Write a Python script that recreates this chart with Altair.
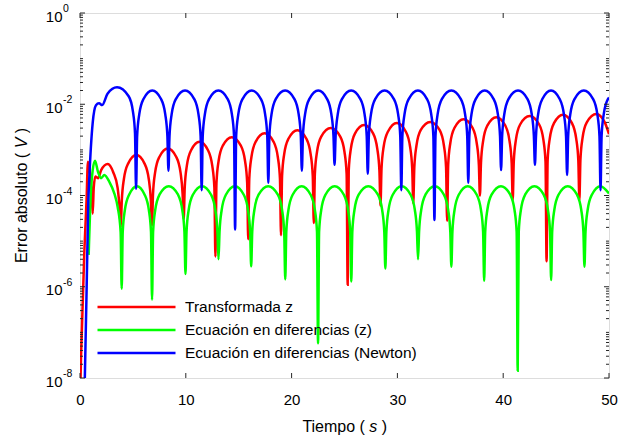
import altair as alt
import pandas as pd

FONT = "Liberation Sans"

# ---- Series (time in s, absolute error in V) ----
tz_t = [0.02, 0.1, 0.41, 0.62, 0.75, 0.95, 1.1, 1.2, 1.3, 1.45, 1.7, 2.0, 2.62, 3.15, 3.55, 3.75, 3.85,
        3.95, 4.15, 4.55, 5.33, 6.1, 6.5, 6.7, 6.8,
        6.9, 7.1, 7.5, 8.3, 9.1, 9.5, 9.7, 9.8,
        9.9, 10.1, 10.5, 11.3, 12.1, 12.5, 12.7, 12.8,
        12.9, 13.1, 13.5, 14.35, 15.2, 15.6, 15.8, 15.9,
        16.0, 16.2, 16.6, 17.45, 18.3, 18.7, 18.9, 19.0,
        19.1, 19.3, 19.7, 20.55, 21.4, 21.8, 22.0, 22.1,
        22.2, 22.4, 22.8, 23.7, 24.6, 25.0, 25.2, 25.3,
        25.4, 25.6, 26.0, 26.85, 27.7, 28.1, 28.3, 28.4,
        28.5, 28.7, 29.1, 29.95, 30.8, 31.2, 31.4, 31.5,
        31.6, 31.8, 32.2, 33.1, 34.0, 34.4, 34.6, 34.7,
        34.8, 35.0, 35.4, 36.25, 37.1, 37.5, 37.7, 37.8,
        37.9, 38.1, 38.5, 39.35, 40.2, 40.6, 40.8, 40.9,
        41.0, 41.2, 41.6, 42.5, 43.4, 43.8, 44.0, 44.1,
        44.2, 44.4, 44.8, 45.65, 46.5, 46.9, 47.1, 47.2,
        47.3, 47.5, 47.9, 48.8, 49.6, 50.0]
tz_err = [5e-9, 3e-8, 6e-6, 8e-5, 5.5e-4, 3e-4, 1.2e-4, 4e-5, 1.5e-4, 2.6e-4, 2.4e-4, 3.6e-4, 4.9e-4, 3.2e-4, 1.5e-4, 5e-5, 2e-5,
          7.7e-5, 2.3e-4, 5.0e-4, 7.7e-4, 5.0e-4, 2.3e-4, 7.7e-5, 2.2e-5,
          1.07e-4, 3.2e-4, 7.0e-4, 1.07e-3, 7.0e-4, 3.2e-4, 1.07e-4, 3e-5,
          1.5e-4, 4.5e-4, 9.8e-4, 1.5e-3, 9.8e-4, 4.5e-4, 1.5e-4, 4.6e-6,
          1.9e-4, 5.7e-4, 1.24e-3, 1.9e-3, 1.24e-3, 5.7e-4, 1.9e-4, 1.1e-5,
          2.3e-4, 6.9e-4, 1.5e-3, 2.3e-3, 1.5e-3, 6.9e-4, 2.3e-4, 1.35e-5,
          2.7e-4, 8.1e-4, 1.75e-3, 2.7e-3, 1.75e-3, 8.1e-4, 2.7e-4, 2.5e-5,
          3e-4, 9e-4, 1.95e-3, 3e-3, 1.95e-3, 9e-4, 3e-4, 1.1e-6,
          3.5e-4, 1.05e-3, 2.3e-3, 3.5e-3, 2.3e-3, 1.05e-3, 3.5e-4, 6e-5,
          3.9e-4, 1.17e-3, 2.5e-3, 3.9e-3, 2.5e-3, 1.17e-3, 3.9e-4, 6.8e-5,
          4.1e-4, 1.23e-3, 2.7e-3, 4.1e-3, 2.7e-3, 1.23e-3, 4.1e-4, 2.8e-5,
          4.7e-4, 1.4e-3, 3.05e-3, 4.7e-3, 3.05e-3, 1.4e-3, 4.7e-4, 1.0e-4,
          5.2e-4, 1.56e-3, 3.4e-3, 5.2e-3, 3.4e-3, 1.56e-3, 5.2e-4, 8e-5,
          5.5e-4, 1.65e-3, 3.6e-3, 5.5e-3, 3.6e-3, 1.65e-3, 5.5e-4, 3.6e-6,
          5.9e-4, 1.77e-3, 3.85e-3, 5.9e-3, 3.85e-3, 1.77e-3, 5.9e-4, 8e-5,
          6.1e-4, 1.83e-3, 4e-3, 6.1e-3, 4e-3, 2.2e-3]

ecz_t = [0.82, 1.04, 1.2, 1.42, 1.7, 1.99, 2.3, 2.77, 3.25, 3.56, 3.84, 3.94,
         4.04, 4.24, 4.64, 5.38, 6.11, 6.51, 6.71, 6.81,
         6.91, 7.11, 7.51, 8.39, 9.27, 9.67, 9.87, 9.97,
         10.07, 10.27, 10.67, 11.53, 12.39, 12.79, 12.99, 13.09,
         13.19, 13.39, 13.79, 14.64, 15.48, 15.88, 16.08, 16.18,
         16.28, 16.48, 16.88, 17.79, 18.7, 19.1, 19.3, 19.4,
         19.5, 19.7, 20.1, 20.95, 21.8, 22.2, 22.4, 22.5,
         22.6, 22.8, 23.2, 24.07, 24.94, 25.34, 25.54, 25.64,
         25.74, 25.94, 26.34, 27.25, 28.16, 28.56, 28.76, 28.86,
         28.96, 29.16, 29.56, 30.4, 31.25, 31.65, 31.85, 31.95,
         32.05, 32.25, 32.65, 33.53, 34.4, 34.8, 35.0, 35.1,
         35.2, 35.4, 35.8, 36.65, 37.5, 37.9, 38.1, 38.2,
         38.3, 38.5, 38.9, 39.79, 40.67, 41.07, 41.27, 41.37,
         41.47, 41.67, 42.07, 42.95, 43.83, 44.23, 44.43, 44.53,
         44.63, 44.83, 45.23, 46.1, 46.98, 47.38, 47.58, 47.68,
         47.78, 47.98, 48.38, 49.2, 50.0]
ecz_err = [5e-6, 1.3e-4, 3.6e-4, 5.8e-4, 3.3e-4, 2.4e-4, 2.8e-4, 2.0e-4, 1.1e-4, 5.6e-5, 1.6e-5, 9e-7,
           1.6e-5, 4.8e-5, 1.04e-4, 1.6e-4, 1.04e-4, 4.8e-5, 1.6e-5, 5.2e-7,
           1.6e-5, 4.8e-5, 1.04e-4, 1.6e-4, 1.04e-4, 4.8e-5, 1.6e-5, 1.9e-6,
           1.6e-5, 4.8e-5, 1.04e-4, 1.6e-4, 1.04e-4, 4.8e-5, 1.6e-5, 4e-6,
           1.6e-5, 4.8e-5, 1.04e-4, 1.6e-4, 1.04e-4, 4.8e-5, 1.6e-5, 2.8e-6,
           1.6e-5, 4.8e-5, 1.04e-4, 1.6e-4, 1.04e-4, 4.8e-5, 1.6e-5, 1.45e-6,
           1.6e-5, 4.8e-5, 1.04e-4, 1.6e-4, 1.04e-4, 4.8e-5, 1.6e-5, 5.8e-8,
           1.6e-5, 4.8e-5, 1.04e-4, 1.6e-4, 1.04e-4, 4.8e-5, 1.6e-5, 1.3e-6,
           1.6e-5, 4.8e-5, 1.04e-4, 1.6e-4, 1.04e-4, 4.8e-5, 1.6e-5, 2.5e-6,
           1.6e-5, 4.8e-5, 1.04e-4, 1.6e-4, 1.04e-4, 4.8e-5, 1.6e-5, 4e-6,
           1.6e-5, 4.8e-5, 1.04e-4, 1.6e-4, 1.04e-4, 4.8e-5, 1.6e-5, 2.75e-6,
           1.6e-5, 4.8e-5, 1.04e-4, 1.6e-4, 1.04e-4, 4.8e-5, 1.6e-5, 1.35e-6,
           1.6e-5, 4.8e-5, 1.04e-4, 1.6e-4, 1.04e-4, 4.8e-5, 1.6e-5, 1.45e-8,
           1.6e-5, 4.8e-5, 1.04e-4, 1.6e-4, 1.04e-4, 4.8e-5, 1.6e-5, 1.4e-6,
           1.6e-5, 4.8e-5, 1.04e-4, 1.6e-4, 1.04e-4, 4.8e-5, 1.6e-5, 2.75e-6,
           1.6e-5, 4.8e-5, 1.04e-4, 1.6e-4, 1.1e-4]

newton_t = [0.43, 0.63, 0.79, 0.87, 1.2, 1.51, 1.8, 2.1, 2.6, 3.5, 4.6, 5.0, 5.2, 5.3,
            5.4, 5.6, 6.0, 6.83, 7.66, 8.06, 8.26, 8.36,
            8.46, 8.66, 9.06, 9.93, 10.8, 11.2, 11.4, 11.5,
            11.6, 11.8, 12.2, 13.08, 13.96, 14.36, 14.56, 14.66,
            14.76, 14.96, 15.36, 16.23, 17.1, 17.5, 17.7, 17.8,
            17.9, 18.1, 18.5, 19.39, 20.27, 20.67, 20.87, 20.97,
            21.07, 21.27, 21.67, 22.52, 23.36, 23.76, 23.96, 24.06,
            24.16, 24.36, 24.76, 25.63, 26.5, 26.9, 27.1, 27.2,
            27.3, 27.5, 27.9, 28.79, 29.67, 30.07, 30.27, 30.37,
            30.47, 30.67, 31.07, 31.94, 32.8, 33.2, 33.4, 33.5,
            33.6, 33.8, 34.2, 35.1, 36.0, 36.4, 36.6, 36.7,
            36.8, 37.0, 37.4, 38.25, 39.1, 39.5, 39.7, 39.8,
            39.9, 40.1, 40.5, 41.4, 42.3, 42.7, 42.9, 43.0,
            43.1, 43.3, 43.7, 44.52, 45.34, 45.74, 45.94, 46.04,
            46.14, 46.34, 46.74, 47.62, 48.5, 48.9, 49.1, 49.2,
            49.3, 49.5, 49.9, 50.0]
newton_err = [5e-9, 1e-6, 8e-5, 2.2e-4, 3.9e-3, 9.5e-3, 1.05e-2, 9.6e-3, 1.7e-2, 2.35e-2, 1.5e-2, 7e-3, 2.3e-3, 1.4e-4,
              2e-3, 6e-3, 1.3e-2, 2e-2, 1.3e-2, 6e-3, 2e-3, 3.5e-4,
              2e-3, 6e-3, 1.3e-2, 2e-2, 1.3e-2, 6e-3, 2e-3, 1.3e-4,
              2e-3, 6e-3, 1.3e-2, 2e-2, 1.3e-2, 6e-3, 2e-3, 1.8e-5,
              2e-3, 6e-3, 1.3e-2, 2e-2, 1.3e-2, 6e-3, 2e-3, 1.9e-4,
              2e-3, 6e-3, 1.3e-2, 2e-2, 1.3e-2, 6e-3, 2e-3, 3.5e-4,
              2e-3, 6e-3, 1.3e-2, 2e-2, 1.3e-2, 6e-3, 2e-3, 4.7e-4,
              2e-3, 6e-3, 1.3e-2, 2e-2, 1.3e-2, 6e-3, 2e-3, 3.0e-4,
              2e-3, 6e-3, 1.3e-2, 2e-2, 1.3e-2, 6e-3, 2e-3, 1.3e-4,
              2e-3, 6e-3, 1.3e-2, 2e-2, 1.3e-2, 6e-3, 2e-3, 2.9e-5,
              2e-3, 6e-3, 1.3e-2, 2e-2, 1.3e-2, 6e-3, 2e-3, 1.9e-4,
              2e-3, 6e-3, 1.3e-2, 2e-2, 1.3e-2, 6e-3, 2e-3, 3.6e-4,
              2e-3, 6e-3, 1.3e-2, 2e-2, 1.3e-2, 6e-3, 2e-3, 4.7e-4,
              2e-3, 6e-3, 1.3e-2, 2e-2, 1.3e-2, 6e-3, 2e-3, 2.8e-4,
              2e-3, 6e-3, 1.3e-2, 2e-2, 1.3e-2, 6e-3, 2e-3, 1.3e-4,
              2e-3, 6e-3, 1.3e-2, 1.4e-2]

series_names = ["Transformada z", "Ecuación en diferencias (z)", "Ecuación en diferencias (Newton)"]
series_colors = ["#ff0000", "#00ff00", "#0000ff"]

x_ticks = [0, 10, 20, 30, 40, 50]
y_major = [1e-8, 1e-6, 1e-4, 1e-2, 1.0]
y_exp = ["-8", "-6", "-4", "-2", "0"]
y_minor = [m * 10.0 ** k for k in range(-8, 0) for m in range(2, 10)] + [1e-7, 1e-5, 1e-3, 1e-1]

W, H = 529, 365
AX = "#262626"

frames = []
for name, ts, es in zip(series_names, [tz_t, ecz_t, newton_t], [tz_err, ecz_err, newton_err]):
    frames.append(pd.DataFrame({"serie": name, "t": ts, "err": es}))
df = pd.concat(frames, ignore_index=True)

xs = alt.Scale(domain=[0, 50], nice=False)
ys = alt.Scale(type="log", domain=[1e-8, 1], nice=False)

x_axis = alt.Axis(values=x_ticks, format="d", title=None, grid=False, domain=False,
                  ticks=False, tickSize=0, labelPadding=14, labelFontSize=15, labelFont=FONT,
                  labelColor="black", labelFlush=False)
y_axis = alt.Axis(values=y_major, labelExpr="'10'", title=None, grid=False,
                  domain=False, ticks=False, tickSize=0, labelPadding=18, labelOffset=3,
                  labelFontSize=15, labelFont=FONT, labelColor="black", labelFlush=False)

X = alt.X("t:Q", scale=xs, axis=x_axis)
Y = alt.Y("err:Q", scale=ys, axis=y_axis)

legend = alt.Legend(title=None, orient="none", legendX=16, legendY=284, symbolType="stroke",
                    symbolSize=6084, symbolStrokeWidth=2.5, clipHeight=20, rowPadding=3,
                    labelFontSize=15.5, labelFont=FONT, labelColor="black", labelOffset=8,
                    padding=0, labelLimit=400)
C = alt.Color("serie:N", scale=alt.Scale(domain=series_names, range=series_colors), legend=legend)

layers = []
for name in series_names:
    layers.append(
        alt.Chart(df).transform_filter(alt.datum.serie == name)
        .mark_line(strokeWidth=2.5, clip=True, interpolate="monotone")
        .encode(x=X, y=Y, color=C, order="t:Q")
    )

ymaj = pd.DataFrame({"err": y_major, "exp": y_exp})
ymin = pd.DataFrame({"err": y_minor})
xt = pd.DataFrame({"t": x_ticks})

tick_style = dict(color=AX, strokeWidth=1)
layers += [
    alt.Chart(ymaj).mark_rule(**tick_style).encode(y=Y, x=alt.value(0), x2=alt.value(5)),
    alt.Chart(ymin).mark_rule(**tick_style).encode(y=Y, x=alt.value(0), x2=alt.value(3)),
    alt.Chart(ymaj).mark_rule(**tick_style).encode(y=Y, x=alt.value(W - 5), x2=alt.value(W)),
    alt.Chart(ymin).mark_rule(**tick_style).encode(y=Y, x=alt.value(W - 3), x2=alt.value(W)),
    alt.Chart(xt).mark_rule(**tick_style).encode(x=X, y=alt.value(H - 5), y2=alt.value(H)),
    alt.Chart(xt).mark_rule(**tick_style).encode(x=X, y=alt.value(0), y2=alt.value(5)),
    alt.Chart(ymaj).mark_text(align="left", baseline="middle", fontSize=10.5, dy=-4, font=FONT,
                              color="black").encode(y=Y, x=alt.value(-17), text="exp:N"),
]

# ---- axis titles with italic units ----
one = pd.DataFrame({"k": [0]})
TS = 16
em = TS
cx = W / 2
ty = 414
title_txt = dict(font=FONT, fontSize=TS, color="black", baseline="middle")
layers += [
    alt.Chart(one).mark_text(text="Tiempo (", align="right", **title_txt)
    .encode(x=alt.value(cx - 42.7 + 3.945 * em), y=alt.value(ty)),
    alt.Chart(one).mark_text(text="s", align="center", fontStyle="italic", **title_txt)
    .encode(x=alt.value(cx - 42.7 + 4.473 * em), y=alt.value(ty)),
    alt.Chart(one).mark_text(text=")", align="left", **title_txt)
    .encode(x=alt.value(cx - 42.7 + 5.001 * em), y=alt.value(ty)),
]
cy = H / 2
tx = -58
tot = 8.447 * em
layers += [
    alt.Chart(one).mark_text(text="Error absoluto (", align="right", angle=270, **title_txt)
    .encode(x=alt.value(tx), y=alt.value(cy + tot / 2 - 6.891 * em)),
    alt.Chart(one).mark_text(text="V", align="center", angle=270, fontStyle="italic", **title_txt)
    .encode(x=alt.value(tx), y=alt.value(cy + tot / 2 - 7.5025 * em)),
    alt.Chart(one).mark_text(text=")", align="left", angle=270, **title_txt)
    .encode(x=alt.value(tx), y=alt.value(cy + tot / 2 - 8.114 * em)),
]

chart = alt.layer(*layers).properties(
    width=W, height=H,
    autosize=alt.AutoSizeParams(type="none"),
    padding={"left": 80, "top": 13, "right": 15, "bottom": 60},
).configure_view(stroke=AX, strokeWidth=1).configure(background="white")

chart.save("out.html", embed_options={"renderer": "svg", "actions": False})
